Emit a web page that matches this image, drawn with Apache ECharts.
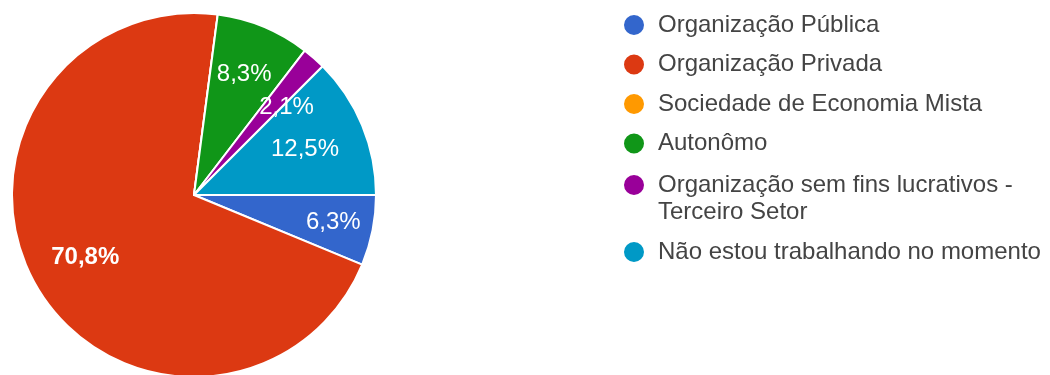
<!DOCTYPE html>
<html>
<head>
<meta charset="utf-8">
<script src="https://cdn.jsdelivr.net/npm/echarts@6/dist/echarts.min.js"></script>
<style>
  html, body { margin: 0; padding: 0; background: #fff; }
  #chart { width: 1050px; height: 375px; }
</style>
</head>
<body>
<div id="chart"></div>
<script>
// Survey answers: where respondents currently work (count of answers)
const categories = [
  'Organização Pública',
  'Organização Privada',
  'Sociedade de Economia Mista',
  'Autonomo',
  'Organização sem fins lucrativos - Terceiro Setor',
  'Não estou trabalhando no momento'
];
const legendLabels = [
  'Organização Pública',
  'Organização Privada',
  'Sociedade de Economia Mista',
  'Autonômo',
  'Organização sem fins lucrativos -\nTerceiro Setor',
  'Não estou trabalhando no momento'
];
const counts = [3, 34, 0, 4, 1, 6];
const colors = ['#3366cc', '#dc3912', '#ff9900', '#109618', '#990099', '#0099c6'];

const total = counts.reduce((a, b) => a + b, 0);
const pctText = v => (v / total * 100).toFixed(1).replace('.', ',') + '%';

const FONT = '"Liberation Sans", Arial, sans-serif';
const CENTER = [194, 195];
const R = 182;

// distance of each percentage label from the centre, as a share of the radius
// (null: slice too thin for an inside label)
const labelRadius = [0.78, 0.69, null, 0.72, null, 0.66];

const sliceData = categories.map((name, i) => ({
  name,
  value: counts[i],
  itemStyle: { color: colors[i] }
}));

const labelFont = {
  color: '#ffffff',
  fontFamily: FONT,
  fontSize: 24,
  formatter: p => pctText(p.value)
};

// transparent ring whose label sits at the middle of the ring for slice k
function labelRing(k) {
  const mid = labelRadius[k] * R - 3;
  const inner = 2 * mid - R;
  return {
    type: 'pie',
    silent: true,
    center: CENTER,
    radius: [inner, R],
    startAngle: 0,
    clockwise: true,
    avoidLabelOverlap: false,
    labelLine: { show: false },
    emphasis: { disabled: true },
    itemStyle: { color: 'rgba(0,0,0,0)', borderWidth: 0 },
    label: Object.assign({ position: 'inside' }, labelFont),
    data: categories.map((name, i) => ({
      name,
      value: counts[i],
      label: {
        show: i === k,
        fontWeight: counts[i] / total > 0.5 ? 'bold' : 'normal'
      }
    }))
  };
}

// thin slices: text pulled back into the pie from the outer edge
function narrowRing(k) {
  return {
    type: 'pie',
    silent: true,
    center: CENTER,
    radius: [0, R],
    startAngle: 0,
    clockwise: true,
    avoidLabelOverlap: false,
    emphasis: { disabled: true },
    itemStyle: { color: 'rgba(0,0,0,0)', borderWidth: 0 },
    label: Object.assign({ position: 'outside', distanceToLabelLine: 0 }, labelFont),
    labelLine: { show: false, length: -65, length2: -12 },
    data: categories.map((name, i) => ({
      name,
      value: counts[i],
      label: { show: i === k }
    }))
  };
}

const labelSeries = [];
counts.forEach((c, k) => {
  if (c <= 0) return;
  labelSeries.push(labelRadius[k] == null ? narrowRing(k) : labelRing(k));
});

const labelMap = {};
categories.forEach((c, i) => { labelMap[c] = legendLabels[i]; });

// a wrapped entry keeps its marker beside the first line
const legendText = name => {
  const t = labelMap[name];
  return t.indexOf('\n') >= 0 ? '\n' + t : t;
};

const legendCommon = {
  orient: 'vertical',
  left: 622,
  padding: 0,
  icon: 'circle',
  itemWidth: 38,
  itemHeight: 22,
  selectedMode: false,
  formatter: legendText,
  textStyle: {
    fontFamily: FONT,
    fontSize: 24,
    lineHeight: 27,
    color: '#444'
  }
};

const chart = echarts.init(document.getElementById('chart'), null, { renderer: 'canvas' });
chart.setOption({
  animation: false,
  color: colors,
  legend: [
    Object.assign({}, legendCommon, {
      top: 11.5,
      itemGap: 12.5,
      data: categories.slice(0, 4)
    }),
    Object.assign({}, legendCommon, {
      top: 144.5,
      itemGap: 13,
      data: categories.slice(4)
    })
  ],
  series: [
    {
      type: 'pie',
      center: CENTER,
      radius: [0, R],
      startAngle: 0,
      clockwise: true,
      stillShowZeroSum: true,
      avoidLabelOverlap: false,
      label: { show: false },
      labelLine: { show: false },
      emphasis: { disabled: true },
      itemStyle: { borderColor: '#ffffff', borderWidth: 2 },
      data: sliceData
    }
  ].concat(labelSeries)
});
</script>
</body>
</html>
